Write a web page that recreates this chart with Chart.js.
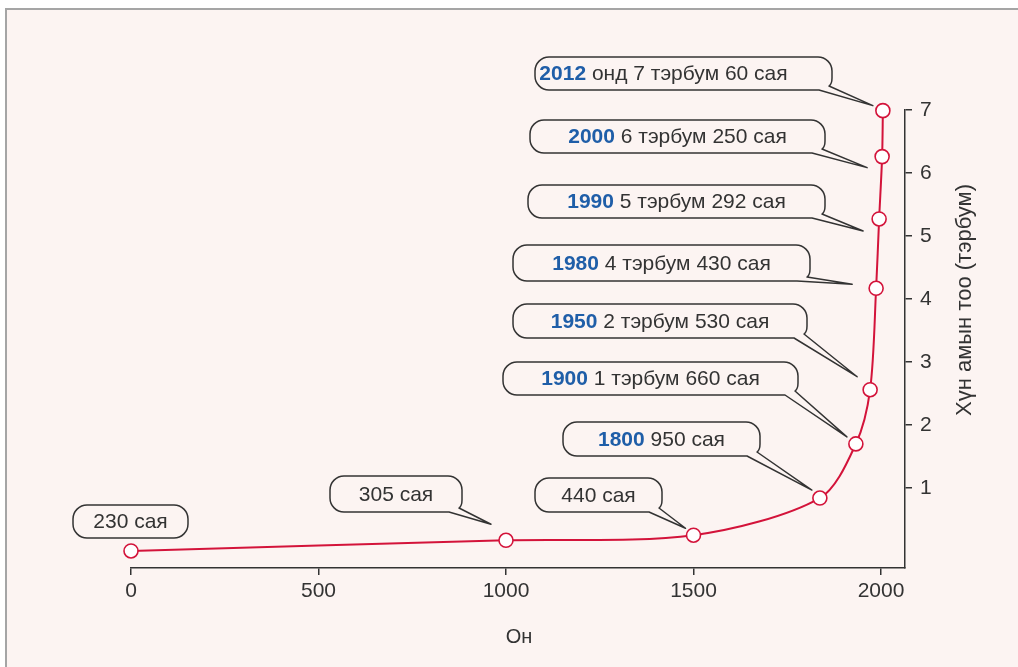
<!DOCTYPE html>
<html>
<head>
<meta charset="utf-8">
<script src="https://cdn.jsdelivr.net/npm/chart.js@4.4.1/dist/chart.umd.min.js"></script>
<style>
  html, body { margin: 0; padding: 0; background: #fff; overflow: hidden; }
  #frame { position: absolute; left: 5px; top: 8px; width: 1040px; height: 700px;
           border: 2px solid #a5a5a5; background: #fcf4f2; }
  #wrap { position: absolute; left: 0; top: 0; width: 1018px; height: 667px; }
</style>
</head>
<body>
<div id="frame"></div>
<div id="wrap"><canvas id="pop-chart"></canvas></div>
<script>
/* World population curve — year vs. population (billions) */
const years = [0, 1000, 1500, 1837, 1933, 1971, 1987, 1995, 2003, 2005];
const population = [0.0, 0.17, 0.25, 0.84, 1.7, 2.56, 4.17, 5.27, 6.26, 6.99];
const yearLabels = ["", "", "", "1800", "1900", "1950", "1980", "1990", "2000", "2012"];
const valueLabels = [
  "230 сая", "305 сая", "440 сая", "950 сая",
  "1 тэрбум 660 сая", "2 тэрбум 530 сая", "4 тэрбум 430 сая",
  "5 тэрбум 292 сая", "6 тэрбум 250 сая", "онд 7 тэрбум 60 сая",
];
const xTicks = [0, 500, 1000, 1500, 2000];
const yTicks = [1, 2, 3, 4, 5, 6, 7];
const xTitle = "Он";
const yTitle = "Хүн амын тоо (тэрбум)";

(function () {
  const color = {
    red: "#d3133a",
    ink: "#333333",
    blue: "#1f5ea8",
    bg: "#fcf4f2",
  };
  const FONT = '"Liberation Sans", Arial, sans-serif';
  const TXT = 21;

  // bubble boxes (px) + tail tip offset from its point
  const bubbles = [
    { x: 73, y: 505, w: 115, h: 33, tail: null },
    { x: 330, y: 476, w: 132, h: 36, tail: [-15, -16] },
    { x: 535, y: 478, w: 127, h: 34, tail: [-8, -7] },
    { x: 563, y: 422, w: 197, h: 34, tail: [-8, -8] },
    { x: 503, y: 362, w: 295, h: 33, tail: [-9, -7] },
    { x: 513, y: 304, w: 294, h: 34, tail: [-13, -13] },
    { x: 513, y: 245, w: 297, h: 36, tail: [-24, -4] },
    { x: 528, y: 185, w: 297, h: 33, tail: [-16, 12] },
    { x: 530, y: 120, w: 295, h: 33, tail: [-15, 11] },
    { x: 535, y: 57, w: 297, h: 33, tail: [-10, -5], dx: -20 },
  ];

  const calloutPlugin = {
    id: "callouts",
    afterDatasetsDraw(chart) {
      const ctx = chart.ctx;
      const pts = chart.getDatasetMeta(0).data;
      ctx.save();
      bubbles.forEach((b, i) => {
        const r = 14;
        const { x, y, w, h } = b;
        ctx.beginPath();
        ctx.moveTo(x + r, y);
        ctx.lineTo(x + w - r, y);
        ctx.arcTo(x + w, y, x + w, y + r, r);
        if (b.tail) {
          const tx = pts[i].x + b.tail[0];
          const ty = pts[i].y + b.tail[1];
          ctx.lineTo(x + w, y + h - 12);
          ctx.quadraticCurveTo(x + w, y + h - 6, x + w - 3, y + h - 4);
          ctx.lineTo(tx, ty);
          ctx.lineTo(x + w - 13, y + h);
        } else {
          ctx.arcTo(x + w, y + h, x + w - r, y + h, r);
        }
        ctx.lineTo(x + r, y + h);
        ctx.arcTo(x, y + h, x, y + h - r, r);
        ctx.lineTo(x, y + r);
        ctx.arcTo(x, y, x + r, y, r);
        ctx.closePath();
        ctx.fillStyle = color.bg;
        ctx.fill();
        ctx.lineWidth = 1.5;
        ctx.lineJoin = "round";
        ctx.strokeStyle = color.ink;
        ctx.stroke();

        // text: bold blue year + plain value
        const bold = yearLabels[i];
        const plain = valueLabels[i];
        ctx.font = "bold " + TXT + "px " + FONT;
        const wb = bold ? ctx.measureText(bold + " ").width : 0;
        ctx.font = TXT + "px " + FONT;
        const wp = ctx.measureText(plain).width;
        let sx = x + w / 2 - (wb + wp) / 2 + (b.dx || 0);
        const cy = y + h / 2 + 1;
        ctx.textBaseline = "middle";
        ctx.textAlign = "left";
        if (bold) {
          ctx.font = "bold " + TXT + "px " + FONT;
          ctx.fillStyle = color.blue;
          ctx.fillText(bold, sx, cy);
          sx += wb;
        }
        ctx.font = TXT + "px " + FONT;
        ctx.fillStyle = color.ink;
        ctx.fillText(plain, sx, cy);
      });
      ctx.restore();
    },
  };

  const titlePlugin = {
    id: "axisTitles",
    afterDraw(chart) {
      const ctx = chart.ctx;
      ctx.save();
      ctx.fillStyle = color.ink;
      ctx.textAlign = "center";
      ctx.textBaseline = "middle";
      ctx.font = "20px " + FONT;
      ctx.fillText(xTitle, 519, 637);
      ctx.translate(965, 300);
      ctx.rotate(-Math.PI / 2);
      ctx.font = "22px " + FONT;
      ctx.fillText(yTitle, 0, 0);
      ctx.restore();
    },
  };

  new Chart(document.getElementById("pop-chart"), {
    type: "line",
    data: {
      datasets: [
        {
          data: years.map((x, i) => ({ x, y: population[i] })),
          borderColor: color.red,
          borderWidth: 2,
          tension: 0.3,
          fill: false,
          clip: false,
          pointRadius: 7,
          pointBorderWidth: 1.6,
          pointBackgroundColor: "#ffffff",
          pointBorderColor: color.red,
        },
      ],
    },
    options: {
      responsive: true,
      maintainAspectRatio: false,
      animation: false,
      layout: { padding: { left: 131, top: 110, right: 0, bottom: 0 } },
      plugins: { legend: { display: false }, tooltip: { enabled: false } },
      scales: {
        x: {
          type: "linear",
          min: 0,
          max: 2064,
          afterBuildTicks: (s) => { s.ticks = xTicks.map((v) => ({ value: v })); },
          afterFit: (s) => { s.height = 99; },
          grid: { drawOnChartArea: false, drawTicks: true, tickLength: 7, color: color.ink, lineWidth: 1.5 },
          border: { display: true, color: color.ink, width: 1.5 },
          ticks: {
            color: color.ink, font: { family: FONT, size: TXT }, padding: 4, maxRotation: 0,
            callback: (v) => String(v),
          },
        },
        y: {
          type: "linear",
          position: "right",
          min: -0.27,
          max: 7,
          afterBuildTicks: (s) => { s.ticks = yTicks.map((v) => ({ value: v })); },
          afterFit: (s) => { s.width = 113; },
          grid: { drawOnChartArea: false, drawTicks: true, tickLength: 7, color: color.ink, lineWidth: 1.5 },
          border: { display: true, color: color.ink, width: 1.5 },
          ticks: { color: color.ink, font: { family: FONT, size: TXT }, padding: 8, callback: (v) => String(v) },
        },
      },
    },
    plugins: [calloutPlugin, titlePlugin],
  });
})();
</script>
</body>
</html>
